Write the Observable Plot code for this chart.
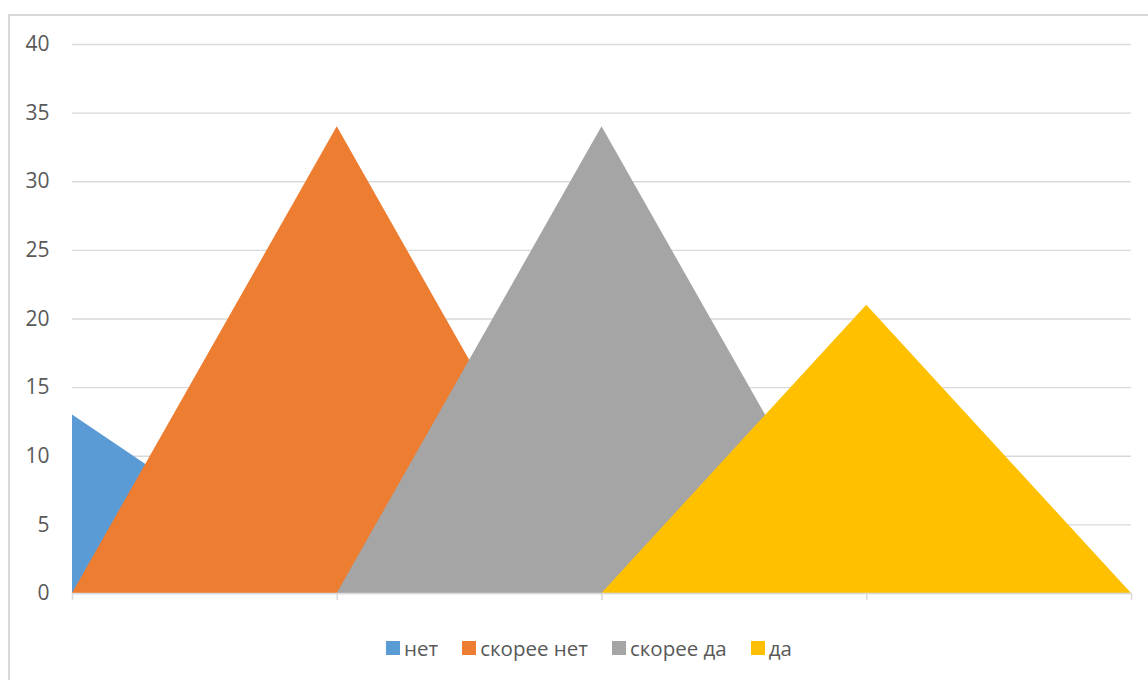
<!DOCTYPE html>
<html>
<head>
<meta charset="utf-8">
<script src="https://cdn.jsdelivr.net/npm/d3@7"></script>
<script src="https://cdn.jsdelivr.net/npm/@observablehq/plot@0.6"></script>
<style>
  html, body { margin: 0; padding: 0; background: #fff; overflow: hidden; width: 1148px; height: 680px; }
  #frame { position: absolute; left: 8px; top: 14px; width: 1160px; height: 700px; border: 2px solid #d9d9d9; box-sizing: border-box; }
  #chart { position: absolute; left: 0; top: 0; }
  #legend { position: absolute; top: 634px; left: 0; width: 1178px; display: flex; justify-content: center; gap: 24px;
            font-family: "Open Sans", sans-serif; font-size: 20.5px; color: #595959; }
  .item { display: flex; align-items: center; }
  .sw { width: 14px; height: 14px; margin-right: 4px; }
</style>
</head>
<body>
<div id="frame"></div>
<div id="chart"></div>
<div id="legend"></div>
<script>
const xIndex = [1, 2, 3, 4, 5];
const seriesNames = ["нет", "скорее нет", "скорее да", "да"];
const seriesColors = ["#5B9BD5", "#ED7D31", "#A5A5A5", "#FFC000"];
const valuesNet = [13, 0, 0, 0, 0];
const valuesSkoreeNet = [0, 34, 0, 0, 0];
const valuesSkoreeDa = [0, 0, 34, 0, 0];
const valuesDa = [0, 0, 0, 21, 0];
const yTicks = [0, 5, 10, 15, 20, 25, 30, 35, 40];

const allValues = [valuesNet, valuesSkoreeNet, valuesSkoreeDa, valuesDa];
const series = allValues.map((vals, s) => xIndex.map((x, i) => ({x, v: vals[i], name: seriesNames[s]})));

const plot = Plot.plot({
  width: 1148,
  height: 620,
  marginTop: 44,
  marginBottom: 27,
  marginLeft: 72,
  marginRight: 17,
  style: { fontFamily: "Open Sans, sans-serif", background: "transparent" },
  x: { domain: [1, 5], label: null },
  y: { domain: [0, 40], label: null },
  marks: [
    Plot.ruleY(yTicks, { stroke: "#d9d9d9", strokeWidth: 1.3 }),
    ...series.map((d, s) => Plot.areaY(d, { x: "x", y: "v", fill: seriesColors[s], fillOpacity: 1 })),
    Plot.ruleY([0], { stroke: "#d9d9d9", strokeWidth: 1.5 }),
    Plot.axisX({ ticks: xIndex, tickFormat: () => "", tickSize: 7, stroke: "#d9d9d9", strokeWidth: 1.5, label: null }),
    Plot.axisY({ ticks: yTicks, tickSize: 0, tickPadding: 23, fontSize: 21, fill: "#595959", label: null })
  ]
});
document.getElementById("chart").appendChild(plot);

const legend = document.getElementById("legend");
seriesNames.forEach((n, i) => {
  const it = document.createElement("div");
  it.className = "item";
  const sw = document.createElement("div");
  sw.className = "sw";
  sw.style.background = seriesColors[i];
  const t = document.createElement("span");
  t.textContent = n;
  it.appendChild(sw); it.appendChild(t);
  legend.appendChild(it);
});
</script>
</body>
</html>
